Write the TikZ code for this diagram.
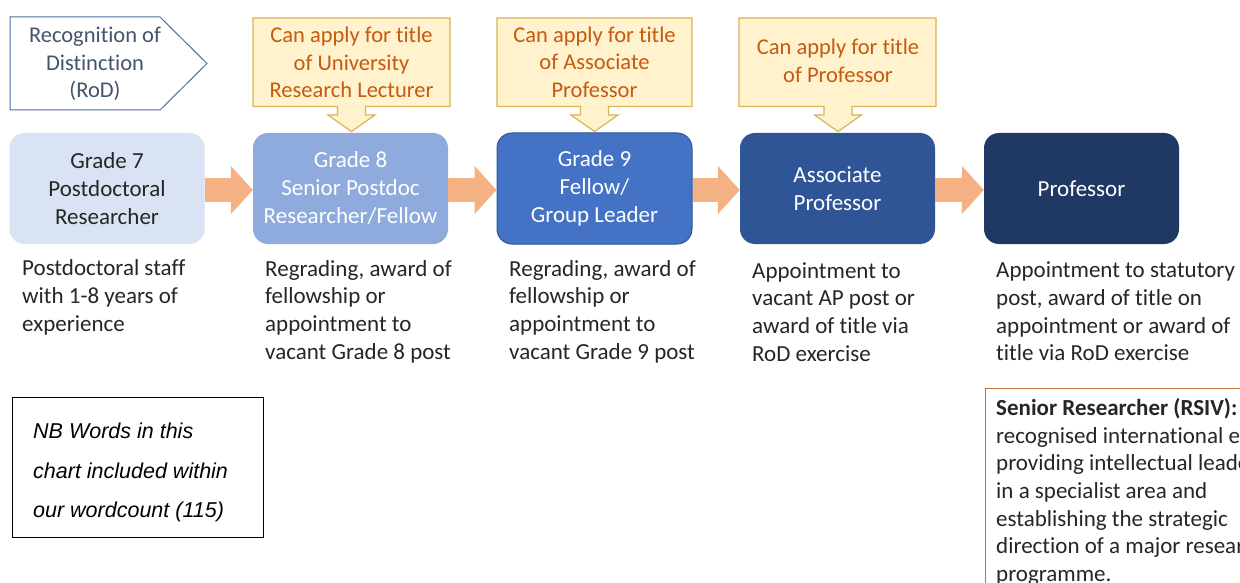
\documentclass[tikz,border=0pt]{standalone}
\usepackage{fontspec}
\setmainfont{Carlito}[Ligatures=NoCommon]
\newfontfamily\arialf{Liberation Sans}
\usetikzlibrary{arrows.meta,calc}
\definecolor{gA}{HTML}{DAE3F3}
\definecolor{gB}{HTML}{8FAADC}
\definecolor{gC}{HTML}{4472C4}
\definecolor{gD}{HTML}{2F5597}
\definecolor{gE}{HTML}{203864}
\definecolor{calfill}{HTML}{FFF2CC}
\definecolor{calline}{HTML}{D6B656}
\definecolor{caltext}{HTML}{C55A11}
\definecolor{flowc}{HTML}{F4B183}
\definecolor{rodline}{HTML}{4F6EA8}
\definecolor{rodtext}{HTML}{44546A}
\definecolor{desctext}{HTML}{262626}
\definecolor{senline}{HTML}{C0703A}
\begin{document}
\begin{tikzpicture}[x=1pt,y=-1pt,
  grade/.style={rounded corners=15pt, minimum width=195pt, minimum height=111pt, inner sep=0pt, align=center, font=\fontsize{23}{28}\selectfont},
  flow/.style={draw=flowc, line width=23pt, -{Triangle[width=47pt,length=22pt]}},
  callout/.style={fill=calfill, draw=calline, line width=1.2pt, line join=miter},
  caltxt/.style={text=caltext, align=center, inner sep=0pt, font=\fontsize{22.5}{27.5}\selectfont},
  desc/.style={text=desctext, align=left, inner sep=0pt, anchor=west, font=\fontsize{23}{27.7}\selectfont},
]
\clip (0,0) rectangle (1240,583);
\fill[white] (0,0) rectangle (1240,583);

% Recognition of Distinction pentagon
\draw[draw=rodline, fill=white, line width=1pt] (10,17) -- (160,17) -- (207,63.5) -- (160,110) -- (10,110) -- cycle;
\node[text=rodtext, align=center, inner sep=0pt, font=\fontsize{22.5}{27.5}\selectfont] (rod) at (95,64) {Recognition of\\Distinction\\(RoD)};

% callouts
\foreach \cx/\l/\r/\nm in {351.5/253/450/ca, 594.5/497/692/cb, 838/739/936/cc}{
  \draw[callout] (\l,18) -- (\r,18) -- (\r,106.5) -- (\cx+14,106.5) -- (\cx+14,115) -- (\cx+23.5,115)
     -- (\cx,131.5) -- (\cx-23.5,115) -- (\cx-14,115) -- (\cx-14,106.5) -- (\l,106.5) -- cycle;
}
\node[caltxt] (ta) at (351.5,62.5) {Can apply for title\\of University\\Research Lecturer};
\node[caltxt] (tb) at (594.5,62) {Can apply for title\\of Associate\\Professor};
\node[caltxt] (tc) at (838,61) {Can apply for title\\of Professor};

% grade boxes
\node[grade, fill=gA, text=desctext] (g7) at (107,188.5) {Grade 7\\Postdoctoral\\Researcher};
\node[grade, fill=gB, text=white] (g8) at (350.5,188.5) {Grade 8\\Senior Postdoc\\Researcher/Fellow};
\node[grade, fill=gC, draw=gD, line width=1pt, text=white] (g9) at (594.5,188.5) {Grade 9\\Fellow/\\Group Leader};
\node[grade, fill=gD, text=white] (ap) at (837.5,188.5) {Associate\\Professor};
\node[grade, fill=gE, text=white] (pr) at (1081.5,188.5) {Professor};

% flow arrows
\draw[flow] ([yshift=-1.5pt]g7.east) -- ([yshift=-1.5pt]g8.west);
\draw[flow] ([yshift=-1.5pt]g8.east) -- ([yshift=-1.5pt]g9.west);
\draw[flow] ([yshift=-1.5pt]g9.east) -- ([yshift=-1.5pt]ap.west);
\draw[flow] ([yshift=-1.5pt]ap.east) -- ([yshift=-1.5pt]pr.west);

% descriptions
\node[desc] (d7) at (22,297.5) {Postdoctoral staff\\with 1-8 years of\\experience};
\node[desc] (d8) at (265,311.5) {Regrading, award of\\fellowship or\\appointment to\\vacant Grade 8 post};
\node[desc] (d9) at (509,311.5) {Regrading, award of\\fellowship or\\appointment to\\vacant Grade 9 post};
\node[desc] (dap) at (752,312) {Appointment to\\vacant AP post or\\award of title via\\RoD exercise};
\node[desc] (dpr) at (996,311.5) {Appointment to statutory\\post, award of title on\\appointment or award of\\title via RoD exercise};

% NB box
\node[draw=black, line width=1pt, minimum width=251pt, minimum height=140pt, inner sep=0pt] (nb) at (137.5,467) {};
\node[anchor=west, align=left, inner sep=0pt, font=\arialf\itshape\fontsize{21.5}{39.5}\selectfont] (nbt) at (33,472.5) {NB Words in this\\chart included within\\our wordcount (115)};

% Senior researcher box
\draw[draw=senline, line width=1pt] (985.5,388) rectangle (1300,650);
\node[desc] (sr) at (996,492) {\textbf{Senior Researcher (RSIV):}\\recognised international expert\\providing intellectual leadership\\in a specialist area and\\establishing the strategic\\direction of a major research\\programme.};
\end{tikzpicture}
\end{document}
